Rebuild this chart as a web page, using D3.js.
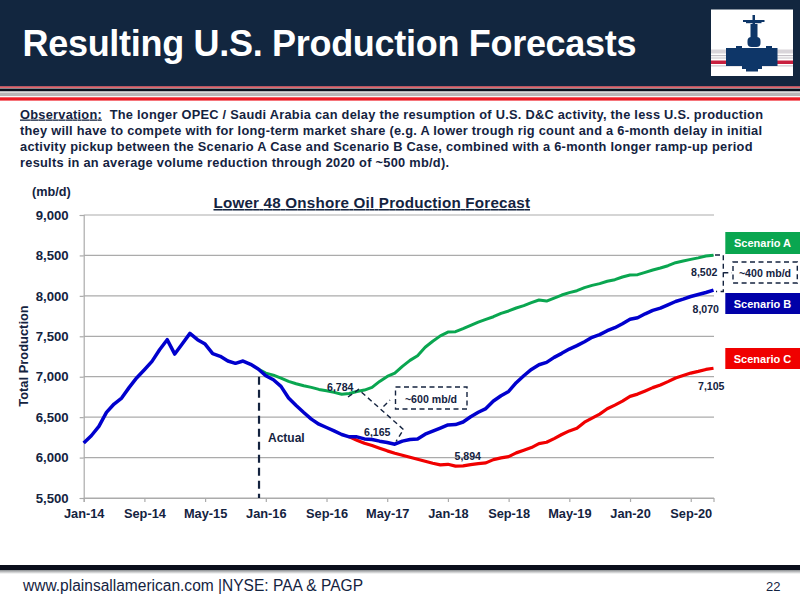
<!DOCTYPE html>
<html>
<head>
<meta charset="utf-8">
<script src="https://d3js.org/d3.v7.min.js"></script>
<style>
  html, body { margin: 0; padding: 0; background: #fff; }
  svg { display: block; }
  text { font-family: "Liberation Sans", Arial, sans-serif; fill: #14233f; }
</style>
</head>
<body>
<svg id="chart" width="800" height="600"></svg>
<script>
// months on the category axis, Jan-14 to Dec-20
const months = d3.timeMonths(new Date(2014, 0, 1), new Date(2021, 0, 1)).map(d3.timeFormat("%b-%y"));
const xTickLabels = ["Jan-14", "Sep-14", "May-15", "Jan-16", "Sep-16", "May-17", "Jan-18", "Sep-18", "May-19", "Jan-20", "Sep-20"];
const yTicks = [5500, 6000, 6500, 7000, 7500, 8000, 8500, 9000];

// actuals then Scenario B, one value per month from Jan-14
const scenarioB = [
  6179, 6270, 6385, 6559, 6662, 6736, 6868, 6988, 7087, 7190, 7334, 7458,
  7280, 7408, 7536, 7458, 7404, 7285, 7252, 7194, 7165, 7194, 7153, 7095,
  7012, 6963, 6880, 6736, 6645, 6558, 6475, 6413, 6372, 6330, 6285, 6256,
  6256, 6231, 6223, 6203, 6186, 6165, 6203, 6223, 6231, 6289, 6326, 6364,
  6403, 6408, 6440, 6505, 6560, 6606, 6699, 6765, 6818, 6926, 7012, 7090,
  7148, 7177, 7239, 7289, 7342, 7384, 7433, 7487, 7520, 7569, 7606, 7655,
  7710, 7730, 7778, 7820, 7848, 7889, 7930, 7959, 7992, 8016, 8041, 8070
];
// Scenario A starts at Dec-15
const scenarioAStart = 23;
const scenarioA = [
  7095, 7045, 7020, 6983, 6942, 6913, 6888, 6868, 6843, 6826, 6806, 6784,
  6793, 6818, 6835, 6868, 6942, 7004, 7045, 7128, 7202, 7260, 7364, 7438,
  7505, 7552, 7557, 7594, 7635, 7676, 7710, 7742, 7784, 7813, 7850, 7879,
  7916, 7949, 7936, 7973, 8010, 8040, 8064, 8101, 8130, 8151, 8180, 8200,
  8233, 8258, 8262, 8291, 8320, 8344, 8373, 8410, 8430, 8451, 8470, 8492, 8502
];
// Scenario C starts at Dec-16
const scenarioCStart = 35;
const scenarioC = [
  6256, 6215, 6178, 6149, 6116, 6083, 6054, 6029, 6004, 5979, 5955, 5930,
  5909, 5917, 5894, 5897, 5913, 5926, 5934, 5975, 5996, 6012, 6058, 6091,
  6124, 6173, 6190, 6235, 6285, 6330, 6363, 6438, 6488, 6538, 6604, 6649,
  6699, 6757, 6785, 6824, 6865, 6898, 6939, 6984, 7016, 7045, 7066, 7090, 7105
];

const observation = [
  "The longer OPEC / Saudi Arabia can delay the resumption of U.S. D&C activity, the less U.S. production",
  "they will have to compete with for long-term market share (e.g. A lower trough rig count and a 6-month delay in initial",
  "activity pickup between the Scenario A Case and Scenario B Case, combined with a 6-month longer ramp-up period",
  "results in an average volume reduction through 2020 of ~500 mb/d)."
];

const navy = "#12263f", ink = "#14233f", grid = "#ababab";
const green = "#0aa650", blue = "#0000cd", red = "#f00000";

const svg = d3.select("#chart");

const x = d3.scalePoint().domain(months).range([83.7, 713.5]);
const y = d3.scaleLinear().domain([5500, 9000]).range([498, 215]);

// ---- slide header
svg.append("rect").attr("width", 800).attr("height", 86.5).attr("fill", navy);
svg.append("rect").attr("y", 86.5).attr("width", 800).attr("height", 1.2).attr("fill", "#d8202c");
svg.append("rect").attr("y", 88.5).attr("width", 800).attr("height", 2.8).attr("fill", "#0b0f1c");
svg.append("rect").attr("y", 92.5).attr("width", 800).attr("height", 3.6).attr("fill", "#b9b5b6");
svg.append("rect").attr("y", 97.3).attr("width", 800).attr("height", 3.3).attr("fill", "#ee1c25");

svg.append("text").attr("x", 22.5).attr("y", 56)
  .attr("textLength", 614).attr("lengthAdjust", "spacing")
  .attr("font-size", 36).attr("font-weight", "bold").style("fill", "#fff")
  .text("Resulting U.S. Production Forecasts");

// logo
const logo = svg.append("g");
const logoRect = (rx, ry, w, h, c) => logo.append("rect")
  .attr("x", rx).attr("y", ry).attr("width", w).attr("height", h).attr("fill", c);
const valve = "#0e3668";
logoRect(711, 9.5, 82, 66.5, "#fff");
logoRect(711, 49.5, 82, 4, "#d9d5da");
logoRect(711, 55, 82, 1.2, "#c4bfc6");
logoRect(711, 57.5, 82, 1, "#c4bfc6");
logoRect(711, 60.5, 82, 3.5, "#c8203f");
logoRect(711, 65, 82, 1.6, "#d9d5da");
logoRect(752.5, 15, 2.5, 9, valve);   // spindle
logoRect(743, 20, 21.5, 2, valve);    // handwheel
logoRect(746, 22, 15.5, 1.2, valve);
logoRect(750.5, 24, 7, 14, valve);    // stem
logoRect(747.5, 37, 13, 10, valve).attr("rx", 4);
logoRect(726, 48, 51.5, 18, valve);   // body
logoRect(736, 46, 6, 2, valve);
logoRect(766, 46, 6, 2, valve);
logoRect(742, 66, 20, 3, valve);
logoRect(746, 69, 12, 2.5, valve);

// ---- observation paragraph
const lineEnds = [763, 762, 752.5, 449];
const lineY = [118.5, 134.5, 150.5, 166.5];
observation.forEach((line, i) => {
  const t = svg.append("text").attr("x", 20).attr("y", lineY[i])
    .attr("font-size", 12.8).attr("font-weight", "bold")
    .attr("textLength", lineEnds[i] - 20).attr("lengthAdjust", "spacing");
  if (i === 0) {
    t.append("tspan").attr("text-decoration", "underline").text("Observation:");
    t.append("tspan").attr("xml:space", "preserve").text("  " + line);
  } else {
    t.text(line);
  }
});

// ---- axes and gridlines
const yAxis = svg.append("g").attr("transform", "translate(83.7,0)")
  .call(d3.axisLeft(y).tickValues(yTicks).tickFormat(d3.format(",")).tickSize(4).tickPadding(11));
const xAxis = svg.append("g").attr("transform", "translate(0,498)")
  .call(d3.axisBottom(x).tickValues(xTickLabels).tickSize(4).tickPadding(7));

svg.append("g").selectAll("line").data(yTicks).join("line")
  .attr("x1", x(months[0])).attr("x2", 714)
  .attr("y1", d => y(d)).attr("y2", d => y(d))
  .attr("stroke", grid).attr("stroke-width", 1.2);

[yAxis, xAxis].forEach(a => {
  a.attr("font-family", null);
  a.select(".domain").attr("stroke", grid).attr("stroke-width", 1.2);
  a.selectAll(".tick line").attr("stroke", grid).attr("stroke-width", 1.2);
  a.selectAll("text").attr("font-weight", "bold").style("fill", ink);
});
yAxis.selectAll("text").attr("font-size", 13.2);
xAxis.selectAll("text").attr("font-size", 12.8);

svg.append("text").attr("x", 32).attr("y", 196).attr("font-size", 12.7).attr("font-weight", "bold").text("(mb/d)");
svg.append("text").attr("transform", "translate(28,356) rotate(-90)").attr("text-anchor", "middle")
  .attr("font-size", 12.9).attr("font-weight", "bold").text("Total Production");
svg.append("text").attr("x", 213.5).attr("y", 208).attr("font-size", 15.2).attr("font-weight", "bold")
  .attr("textLength", 316.5).attr("lengthAdjust", "spacing")
  .attr("text-decoration", "underline").text("Lower 48 Onshore Oil Production Forecast");

// ---- series
const line = start => d3.line().x((d, i) => x(months[start + i])).y(d => y(d));
const drawSeries = (values, start, colour, width) => svg.append("path")
  .attr("d", line(start)(values))
  .attr("fill", "none").attr("stroke", colour).attr("stroke-width", width)
  .attr("stroke-linejoin", "round");
drawSeries(scenarioA, scenarioAStart, green, 3);
drawSeries(scenarioC, scenarioCStart, red, 3.2);
drawSeries(scenarioB, 0, blue, 3.5);

// ---- annotations
const dashed = (d, w = 1.4) => svg.append("path").attr("d", d).attr("fill", "none")
  .attr("stroke", ink).attr("stroke-width", w).attr("stroke-dasharray", "5 3.5");

svg.append("line").attr("x1", x("Dec-15") + 0.8).attr("x2", x("Dec-15") + 0.8)
  .attr("y1", y(7000)).attr("y2", y(5500))
  .attr("stroke", ink).attr("stroke-width", 2.2).attr("stroke-dasharray", "8 5");
svg.append("text").attr("x", 268).attr("y", 442).attr("font-size", 12).attr("font-weight", "bold").text("Actual");

dashed("M348 397L358.5 389.5L403.5 429.5L396 441.5");
dashed("M383.5 406.5L390 400");
dashed("M395.5 387H467V409H395.5Z");
svg.append("text").attr("x", 431).attr("y", 402.5).attr("text-anchor", "middle").attr("font-size", 10.6).attr("font-weight", "bold").text("~600 mb/d");

dashed("M715 255H723.3V291.5H716");
dashed("M723.3 272.7H732");
dashed("M733 262H797.3V283H733Z");
svg.append("text").attr("x", 765).attr("y", 277).attr("text-anchor", "middle").attr("font-size", 10.6).attr("font-weight", "bold").text("~400 mb/d");

const valueLabels = [
  { t: "6,784", x: 327, y: 391 },
  { t: "6,165", x: 364, y: 436 },
  { t: "5,894", x: 454.5, y: 459.5 },
  { t: "8,502", x: 691, y: 276 },
  { t: "8,070", x: 692.5, y: 313 },
  { t: "7,105", x: 698, y: 389.5 }
];
svg.append("g").selectAll("text").data(valueLabels).join("text")
  .attr("x", d => d.x).attr("y", d => d.y)
  .attr("font-size", 10.6).attr("font-weight", "bold").text(d => d.t);

// scenario legend boxes
const legend = [
  { t: "Scenario A", c: green, y: 232, h: 22 },
  { t: "Scenario B", c: "#0000a8", y: 293, h: 21 },
  { t: "Scenario C", c: red, y: 348, h: 21 }
];
legend.forEach(d => {
  svg.append("rect").attr("x", 725.3).attr("y", d.y).attr("width", 74.7).attr("height", d.h).attr("fill", d.c);
  svg.append("text").attr("x", 762.5).attr("y", d.y + d.h / 2 + 4).attr("text-anchor", "middle")
    .attr("font-size", 11).attr("font-weight", "bold").style("fill", "#fff").text(d.t);
});

// ---- footer
const defs = svg.append("defs");
const shade = defs.append("linearGradient").attr("id", "footShade").attr("x1", 0).attr("x2", 0).attr("y1", 0).attr("y2", 1);
shade.append("stop").attr("offset", 0).attr("stop-color", "#8a8d90");
shade.append("stop").attr("offset", 1).attr("stop-color", "#fff");
svg.append("rect").attr("y", 570).attr("width", 800).attr("height", 4).attr("fill", "url(#footShade)");
svg.append("rect").attr("y", 565).attr("width", 800).attr("height", 5).attr("fill", "#0b0f1c");
svg.append("text").attr("x", 23).attr("y", 591).attr("font-size", 16)
  .attr("textLength", 340).attr("lengthAdjust", "spacingAndGlyphs")
  .text("www.plainsallamerican.com |NYSE: PAA & PAGP");
svg.append("text").attr("x", 766).attr("y", 591).attr("font-size", 13).text("22");
</script>
</body>
</html>
